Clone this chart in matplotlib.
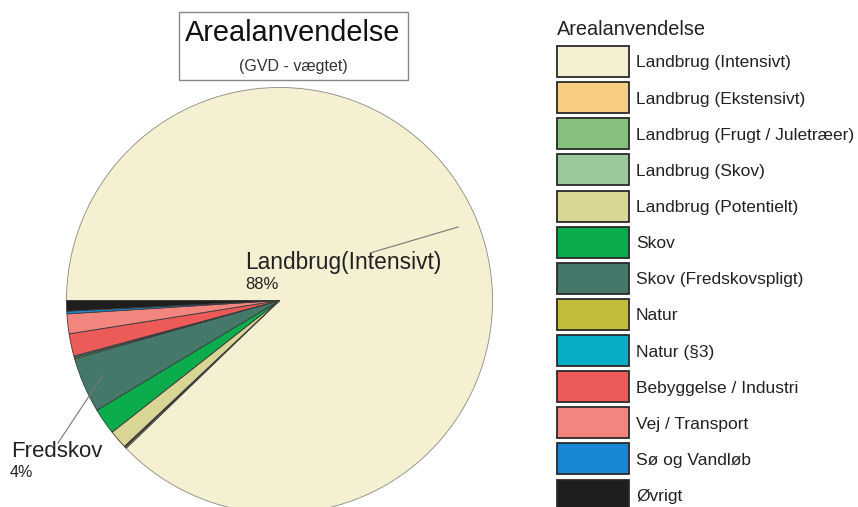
import matplotlib

matplotlib.use("Agg")

import matplotlib.pyplot as plt
from matplotlib.patches import Rectangle

plt.rcParams["font.family"] = ["Liberation Sans", "DejaVu Sans"]

# =========================
# Data: land use share (%)
# =========================
categories = [
    "Landbrug (Intensivt)",
    "Landbrug (Ekstensivt)",
    "Landbrug (Frugt / Juletræer)",
    "Landbrug (Skov)",
    "Landbrug (Potentielt)",
    "Skov",
    "Skov (Fredskovspligt)",
    "Natur",
    "Natur (§3)",
    "Bebyggelse / Industri",
    "Vej / Transport",
    "Sø og Vandløb",
    "Øvrigt",
]
shares = [87.7, 0.1, 0.05, 0.05, 1.4, 2.0, 4.2, 0.1, 0.1, 1.7, 1.5, 0.2, 0.8]
colors = [
    "#f5f0d2",
    "#f7cd82",
    "#86c17e",
    "#9cc89e",
    "#d8d595",
    "#0aac4c",
    "#43786a",
    "#c3bd3c",
    "#08adc8",
    "#ec5b58",
    "#f3857f",
    "#1a86d6",
    "#1f1d1e",
]

W, H = 858, 507

fig = plt.figure(figsize=(W / 100, H / 100), dpi=100)
ax = fig.add_axes([0, 0, 1, 1])

# work in pixel-like coordinates (y up)
cx, cy, r = 279.5, H - 300.5, 213

wedges, _ = ax.pie(
    shares,
    colors=colors,
    startangle=180,
    counterclock=False,
    center=(cx, cy),
    radius=r,
    wedgeprops=dict(edgecolor="#3a3a3a", linewidth=0.6),
)
wedges[0].set_edgecolor("#8a8a80")

ax.set_xlim(0, W)
ax.set_ylim(0, H)
ax.set_aspect("equal")
ax.axis("off")

# labels on the pie
pct_main = round(shares[0])
ax.text(245, H - 269, "Landbrug(Intensivt)", fontsize=16.4, color="#222222",
        ha="left", va="baseline")
ax.text(245, H - 289, f"{pct_main}%", fontsize=12, color="#222222",
        ha="left", va="baseline")
ax.plot([370, 458], [H - 253, H - 227], color="#777777", linewidth=0.8)

pct_fred = round(shares[6])
ax.text(11, H - 457, "Fredskov", fontsize=16, color="#222222",
        ha="left", va="baseline")
ax.text(10, H - 477, f"{pct_fred}%", fontsize=11.5, color="#222222",
        ha="left", va="baseline")
ax.plot([58, 103], [H - 443, H - 375], color="#777777", linewidth=0.8)

# title box
ax.add_patch(Rectangle((178.5, H - 79.5), 229, 68, facecolor="white",
                       edgecolor="#888888", linewidth=1.0, zorder=3))
ax.text(293, H - 41, "Arealanvendelse", fontsize=20.8, ha="center",
        va="baseline", color="#111111", zorder=4)
ax.text(293, H - 71, "(GVD - vægtet)", fontsize=11.5, ha="center",
        va="baseline", color="#333333", zorder=4)

# legend (drawn as boxes to match the original layout)
ax.text(557, H - 35, "Arealanvendelse", fontsize=14.3, ha="left",
        va="baseline", color="#222222")
top0, pitch, bw, bh = 46, 36.13, 71.5, 31
for i, (cat, col) in enumerate(zip(categories, colors)):
    y_top = top0 + i * pitch
    ax.add_patch(Rectangle((557, H - y_top - bh), bw, bh, facecolor=col,
                           edgecolor="#2a2a2a", linewidth=1.3))
    ax.text(636, H - y_top - bh / 2, cat, fontsize=12.5, ha="left",
            va="center_baseline", color="#222222")

fig.savefig("out.png", dpi=100)
